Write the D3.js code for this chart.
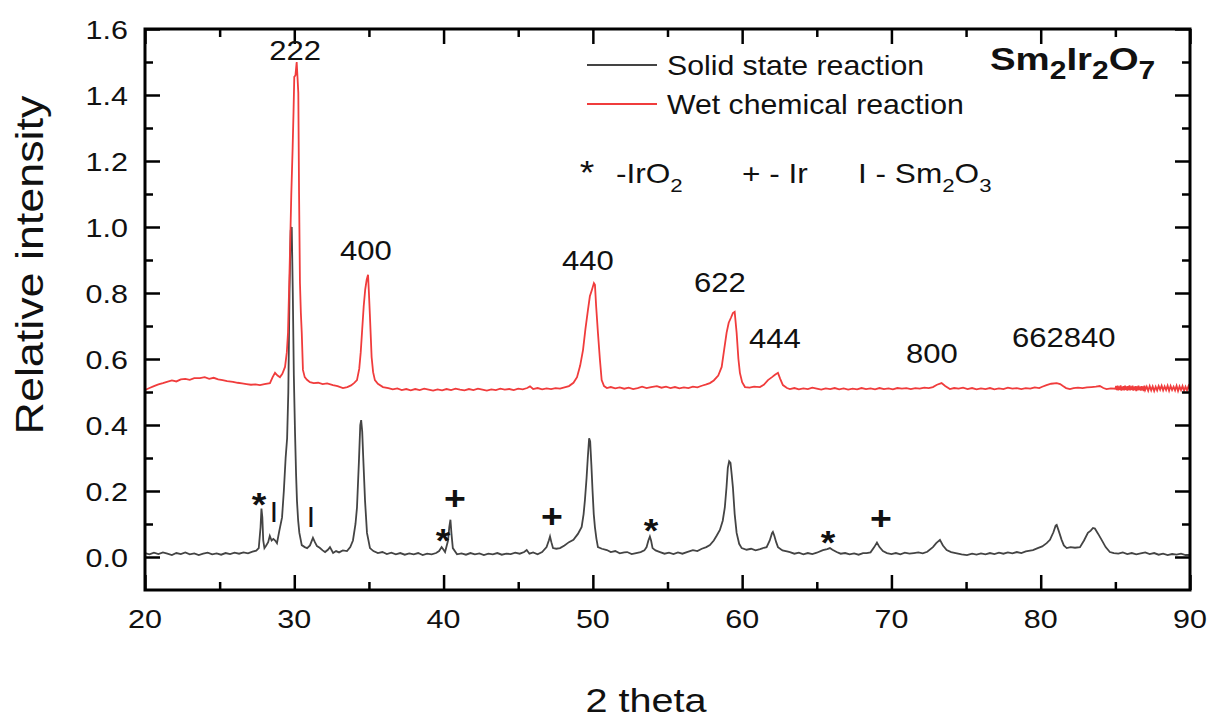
<!DOCTYPE html>
<html>
<head>
<meta charset="utf-8">
<script src="https://cdn.jsdelivr.net/npm/d3@7"></script>
<style>
  body { margin: 0; background: #fff; }
  text { font-family: "Liberation Sans", Arial, sans-serif; fill: #111; }
</style>
</head>
<body>
<div id="container"></div>
<script>
// solid state reaction pattern [2theta, intensity]
const solid = [[20.0,0.012],[20.3,0.008],[20.6,0.013],[20.9,0.009],[21.2,0.014],[21.5,0.010],[21.8,0.006],[22.1,0.012],[22.4,0.009],[22.7,0.014],[23.0,0.008],[23.3,0.011],[23.6,0.006],[23.9,0.010],[24.2,0.013],[24.5,0.008],[24.8,0.011],[25.1,0.007],[25.4,0.012],[25.7,0.009],[26.0,0.013],[26.3,0.010],[26.6,0.014],[26.9,0.011],[27.2,0.016],[27.45,0.019],[27.62,0.027],[27.74,0.09],[27.8,0.147],[27.86,0.12],[27.92,0.05],[28.0,0.027],[28.12,0.035],[28.25,0.045],[28.36,0.064],[28.48,0.05],[28.6,0.055],[28.72,0.05],[28.84,0.042],[29.0,0.08],[29.18,0.12],[29.3,0.2],[29.42,0.3],[29.52,0.36],[29.6,0.5],[29.68,0.8],[29.76,0.99],[29.83,1.0],[29.9,0.8],[29.97,0.55],[30.05,0.376],[30.12,0.25],[30.18,0.17],[30.26,0.11],[30.34,0.073],[30.5,0.036],[30.7,0.03],[30.86,0.027],[31.05,0.035],[31.25,0.058],[31.38,0.045],[31.52,0.033],[31.7,0.028],[31.9,0.02],[32.06,0.015],[32.25,0.022],[32.39,0.03],[32.6,0.012],[32.8,0.018],[33.0,0.014],[33.25,0.02],[33.53,0.018],[33.75,0.03],[33.93,0.05],[34.1,0.1],[34.2,0.15],[34.33,0.29],[34.42,0.4],[34.48,0.415],[34.55,0.38],[34.62,0.3],[34.74,0.17],[34.87,0.073],[35.07,0.027],[35.3,0.018],[35.6,0.012],[35.9,0.015],[36.2,0.009],[36.5,0.013],[36.8,0.008],[37.1,0.012],[37.4,0.007],[37.7,0.011],[38.0,0.008],[38.3,0.012],[38.6,0.006],[38.9,0.010],[39.2,0.008],[39.5,0.012],[39.7,0.018],[39.87,0.03],[40.0,0.022],[40.1,0.015],[40.3,0.05],[40.38,0.09],[40.46,0.113],[40.53,0.07],[40.62,0.027],[40.9,0.008],[41.2,0.011],[41.5,0.007],[41.8,0.012],[42.1,0.008],[42.4,0.011],[42.7,0.006],[43.0,0.010],[43.3,0.008],[43.6,0.012],[43.9,0.007],[44.2,0.010],[44.5,0.009],[44.8,0.013],[45.1,0.010],[45.4,0.015],[45.57,0.021],[45.75,0.010],[46.0,0.014],[46.3,0.008],[46.6,0.015],[46.9,0.03],[47.05,0.05],[47.13,0.062],[47.22,0.045],[47.33,0.027],[47.55,0.025],[47.8,0.027],[48.1,0.035],[48.4,0.045],[48.7,0.052],[49.0,0.07],[49.25,0.091],[49.38,0.13],[49.47,0.173],[49.58,0.24],[49.66,0.3],[49.75,0.36],[49.82,0.35],[49.9,0.28],[49.98,0.2],[50.06,0.13],[50.14,0.09],[50.24,0.055],[50.34,0.03],[50.6,0.025],[50.94,0.021],[51.2,0.015],[51.5,0.018],[51.8,0.011],[52.1,0.014],[52.3,0.015],[52.6,0.009],[52.9,0.012],[53.2,0.015],[53.45,0.02],[53.6,0.03],[53.72,0.05],[53.82,0.062],[53.9,0.05],[54.0,0.027],[54.2,0.02],[54.5,0.015],[54.8,0.010],[55.1,0.013],[55.4,0.009],[55.7,0.014],[56.0,0.010],[56.3,0.015],[56.7,0.021],[57.0,0.018],[57.3,0.025],[57.6,0.03],[57.84,0.036],[58.1,0.05],[58.3,0.065],[58.51,0.082],[58.7,0.11],[58.84,0.15],[58.95,0.21],[59.04,0.27],[59.13,0.29],[59.22,0.285],[59.3,0.25],[59.38,0.212],[59.5,0.13],[59.63,0.073],[59.8,0.04],[59.97,0.027],[60.3,0.022],[60.6,0.025],[60.9,0.02],[61.2,0.024],[61.45,0.028],[61.64,0.03],[61.85,0.05],[62.0,0.072],[62.06,0.076],[62.15,0.065],[62.28,0.045],[62.4,0.03],[62.7,0.02],[63.0,0.017],[63.2,0.015],[63.5,0.010],[63.8,0.013],[64.1,0.008],[64.4,0.012],[64.7,0.009],[65.0,0.013],[65.41,0.021],[65.7,0.024],[65.88,0.027],[66.05,0.022],[66.33,0.015],[66.6,0.010],[66.9,0.012],[67.2,0.008],[67.5,0.011],[67.8,0.007],[68.1,0.012],[68.34,0.012],[68.6,0.014],[68.85,0.03],[69.03,0.044],[69.2,0.03],[69.43,0.018],[69.7,0.012],[70.0,0.009],[70.3,0.012],[70.6,0.008],[70.9,0.013],[71.2,0.010],[71.5,0.012],[71.8,0.014],[72.1,0.011],[72.4,0.016],[72.78,0.03],[73.0,0.042],[73.25,0.052],[73.45,0.035],[73.7,0.021],[74.0,0.015],[74.3,0.012],[74.7,0.008],[75.06,0.006],[75.4,0.010],[75.7,0.007],[76.0,0.011],[76.3,0.008],[76.6,0.012],[76.9,0.009],[77.2,0.013],[77.5,0.010],[77.8,0.014],[78.1,0.011],[78.4,0.015],[78.7,0.012],[79.0,0.017],[79.48,0.021],[79.8,0.027],[80.1,0.032],[80.4,0.042],[80.62,0.052],[80.85,0.075],[81.0,0.095],[81.07,0.097],[81.2,0.08],[81.4,0.052],[81.55,0.035],[81.74,0.027],[82.0,0.03],[82.3,0.028],[82.63,0.03],[82.9,0.05],[83.16,0.073],[83.35,0.08],[83.5,0.088],[83.63,0.086],[83.85,0.07],[84.08,0.052],[84.35,0.03],[84.63,0.015],[84.9,0.012],[85.2,0.010],[85.5,0.014],[85.8,0.009],[86.1,0.012],[86.4,0.008],[86.7,0.011],[87.0,0.014],[87.3,0.009],[87.6,0.012],[87.9,0.007],[88.2,0.010],[88.5,0.006],[88.8,0.009],[89.1,0.007],[89.4,0.010],[89.7,0.006],[90.0,0.006]];

// wet chemical reaction pattern [2theta, intensity]
const wet = [[20.0,0.506],[20.3,0.512],[20.6,0.518],[20.9,0.523],[21.2,0.527],[21.47,0.531],[21.8,0.535],[22.1,0.532],[22.4,0.538],[22.7,0.540],[23.0,0.537],[23.3,0.542],[23.68,0.542],[24.0,0.545],[24.3,0.540],[24.6,0.543],[24.9,0.538],[25.2,0.536],[25.5,0.533],[25.89,0.531],[26.2,0.528],[26.5,0.526],[26.8,0.524],[27.1,0.522],[27.4,0.523],[27.7,0.521],[28.0,0.524],[28.37,0.527],[28.55,0.545],[28.71,0.558],[28.88,0.55],[29.04,0.545],[29.2,0.555],[29.38,0.576],[29.5,0.62],[29.58,0.68],[29.7,0.9],[29.8,1.1],[29.89,1.24],[29.95,1.35],[30.0,1.455],[30.08,1.46],[30.16,1.5],[30.22,1.45],[30.27,1.406],[30.32,1.1],[30.38,0.83],[30.44,0.74],[30.5,0.68],[30.58,0.567],[30.7,0.545],[30.85,0.537],[31.05,0.53],[31.3,0.527],[31.6,0.528],[31.9,0.524],[32.2,0.526],[32.59,0.521],[32.9,0.518],[33.26,0.512],[33.55,0.515],[33.8,0.52],[34.0,0.527],[34.2,0.536],[34.35,0.57],[34.45,0.62],[34.55,0.69],[34.65,0.76],[34.75,0.81],[34.85,0.84],[34.94,0.855],[35.0,0.8],[35.07,0.727],[35.18,0.606],[35.28,0.56],[35.4,0.536],[35.6,0.525],[35.94,0.515],[36.3,0.512],[36.6,0.508],[36.9,0.511],[37.2,0.506],[37.5,0.509],[37.8,0.505],[38.1,0.509],[38.4,0.506],[38.7,0.510],[39.0,0.507],[39.3,0.504],[39.6,0.508],[39.9,0.505],[40.2,0.509],[40.5,0.506],[40.8,0.510],[41.1,0.507],[41.4,0.505],[41.7,0.509],[42.0,0.506],[42.3,0.510],[42.6,0.507],[42.9,0.504],[43.2,0.508],[43.5,0.506],[43.8,0.510],[44.1,0.507],[44.4,0.509],[44.7,0.506],[45.0,0.510],[45.3,0.508],[45.6,0.512],[45.79,0.517],[46.0,0.509],[46.3,0.512],[46.6,0.508],[46.9,0.511],[47.2,0.509],[47.5,0.512],[47.8,0.510],[48.1,0.514],[48.4,0.518],[48.7,0.528],[48.94,0.545],[49.15,0.58],[49.34,0.627],[49.5,0.69],[49.67,0.748],[49.8,0.79],[49.94,0.81],[50.07,0.83],[50.14,0.825],[50.22,0.76],[50.34,0.68],[50.47,0.6],[50.59,0.536],[50.75,0.518],[50.94,0.512],[51.2,0.515],[51.5,0.511],[51.8,0.514],[52.1,0.510],[52.4,0.513],[52.7,0.509],[53.0,0.512],[53.3,0.516],[53.6,0.512],[53.9,0.515],[54.29,0.518],[54.6,0.513],[54.9,0.516],[55.2,0.512],[55.5,0.515],[55.8,0.511],[56.1,0.514],[56.4,0.512],[56.7,0.516],[57.0,0.514],[57.3,0.519],[57.6,0.523],[57.84,0.527],[58.1,0.535],[58.4,0.55],[58.63,0.576],[58.8,0.63],[58.96,0.68],[59.1,0.71],[59.25,0.725],[59.38,0.739],[59.5,0.743],[59.63,0.68],[59.75,0.6],[59.85,0.558],[60.0,0.53],[60.19,0.515],[60.5,0.513],[60.8,0.516],[61.19,0.515],[61.45,0.522],[61.73,0.536],[62.0,0.545],[62.2,0.552],[62.4,0.558],[62.55,0.54],[62.73,0.521],[63.0,0.512],[63.2,0.509],[63.5,0.512],[63.8,0.508],[64.1,0.511],[64.4,0.509],[64.7,0.513],[65.0,0.510],[65.3,0.507],[65.6,0.511],[65.9,0.509],[66.2,0.512],[66.5,0.508],[66.8,0.511],[67.1,0.507],[67.4,0.510],[67.7,0.508],[68.0,0.512],[68.3,0.509],[68.6,0.511],[68.9,0.508],[69.2,0.512],[69.5,0.509],[69.8,0.511],[70.1,0.508],[70.4,0.512],[70.7,0.510],[71.0,0.512],[71.3,0.509],[71.6,0.512],[71.9,0.510],[72.2,0.513],[72.5,0.512],[72.78,0.515],[73.05,0.522],[73.36,0.527],[73.6,0.518],[73.92,0.509],[74.2,0.512],[74.5,0.510],[74.8,0.513],[75.1,0.509],[75.4,0.512],[75.7,0.508],[76.0,0.511],[76.3,0.509],[76.6,0.512],[76.9,0.508],[77.2,0.511],[77.5,0.509],[77.8,0.513],[78.1,0.510],[78.4,0.512],[78.7,0.509],[79.0,0.512],[79.3,0.510],[79.6,0.514],[79.9,0.512],[80.1,0.516],[80.39,0.521],[80.7,0.525],[81.07,0.527],[81.3,0.524],[81.49,0.518],[81.7,0.512],[81.96,0.509],[82.2,0.512],[82.5,0.513],[82.8,0.512],[83.1,0.514],[83.4,0.515],[83.7,0.516],[83.96,0.518],[84.2,0.512],[84.41,0.509],[84.7,0.511],[85.0,0.510],[85.05,0.518],[85.1,0.506],[85.15,0.519],[85.2,0.505],[85.25,0.517],[85.3,0.507],[85.35,0.520],[85.4,0.504],[85.45,0.516],[85.5,0.506],[85.55,0.518],[85.6,0.505],[85.65,0.519],[85.7,0.507],[85.75,0.517],[85.8,0.504],[85.85,0.518],[85.9,0.506],[85.95,0.520],[86.0,0.505],[86.05,0.517],[86.1,0.507],[86.15,0.519],[86.2,0.504],[86.25,0.516],[86.3,0.506],[86.35,0.518],[86.4,0.503],[86.45,0.517],[86.5,0.505],[86.55,0.519],[86.6,0.506],[86.65,0.516],[86.7,0.504],[86.75,0.518],[86.8,0.505],[86.85,0.517],[86.9,0.503],[86.95,0.519],[87.0,0.506],[87.1,0.516],[87.2,0.504],[87.3,0.518],[87.4,0.505],[87.5,0.517],[87.6,0.503],[87.7,0.516],[87.8,0.505],[87.9,0.518],[88.0,0.507],[88.1,0.519],[88.2,0.505],[88.3,0.517],[88.4,0.506],[88.5,0.519],[88.6,0.504],[88.7,0.518],[88.8,0.506],[88.9,0.516],[89.0,0.505],[89.1,0.519],[89.2,0.503],[89.3,0.517],[89.4,0.506],[89.5,0.518],[89.6,0.504],[89.7,0.516],[89.8,0.505],[89.9,0.518],[90.0,0.507]];

const seriesNames = ["Solid state reaction", "Wet chemical reaction"];
const seriesColors = ["#444444", "#f03c3c"];

const xTicks = [20, 30, 40, 50, 60, 70, 80, 90];
const xMinor = [25, 35, 45, 55, 65, 75, 85];
const yTicks = [0.0, 0.2, 0.4, 0.6, 0.8, 1.0, 1.2, 1.4, 1.6];
const yMinor = [0.1, 0.3, 0.5, 0.7, 0.9, 1.1, 1.3, 1.5];

// hkl labels of the pyrochlore reflections
const peakLabels = ["222", "400", "440", "622", "444", "800", "662840"];
const peakX = [30.05, 34.8, 49.67, 58.51, 62.2, 72.71, 81.55];
const peakY = [1.506, 0.9, 0.87, 0.803, 0.633, 0.588, 0.636];

// impurity marks on the solid state pattern
const phaseSym = ["*", "I", "I", "*", "+", "+", "*", "*", "+"];
const phaseX = [27.64, 28.64, 31.12, 39.96, 40.76, 47.26, 53.89, 65.75, 69.3];
const phaseY = [0.185, 0.139, 0.124, 0.076, 0.176, 0.121, 0.106, 0.07, 0.115];

let svg = d3.select("#container")
  .append("svg")
  .attr("width", 1208)
  .attr("height", 719);

svg.append("rect").attr("width", 1208).attr("height", 719).attr("fill", "#fff");

let x = d3.scaleLinear().domain([20, 90]).range([145, 1190]);
let y = d3.scaleLinear().domain([-0.1, 1.6]).range([590, 29]);

// text stretched a little sideways, like the original export
function label(g, str, px, py, size, sx, anchor, weight) {
  return g.append("text")
    .attr("transform", "translate(" + px + "," + py + ") scale(" + sx + ",1)")
    .attr("text-anchor", anchor || "start")
    .attr("font-size", size)
    .attr("font-weight", weight || "normal")
    .text(str);
}

// curves
let line = d3.line().x(d => x(d[0])).y(d => y(d[1]));
[solid, wet].forEach(function (s, i) {
  svg.append("path")
    .datum(s)
    .attr("d", line)
    .attr("fill", "none")
    .attr("stroke", seriesColors[i])
    .attr("stroke-width", 1.8)
    .attr("stroke-linejoin", "miter");
});

// ticks, all pointing inwards
function ticks(axis, vals, len, tr) {
  let g = svg.append("g").attr("transform", tr)
    .call(axis.tickValues(vals).tickSize(-len).tickFormat(""));
  g.select(".domain").remove();
  g.selectAll("line").attr("stroke", "#000").attr("stroke-width", 2.5);
  return g;
}
ticks(d3.axisBottom(x), xTicks, 15, "translate(0,590)");
ticks(d3.axisBottom(x), xMinor, 8, "translate(0,590)");
ticks(d3.axisTop(x), xTicks, 15, "translate(0,29)");
ticks(d3.axisTop(x), xMinor, 8, "translate(0,29)");
ticks(d3.axisLeft(y), yTicks, 15, "translate(145,0)");
ticks(d3.axisLeft(y), yMinor, 8, "translate(145,0)");
ticks(d3.axisRight(y), yTicks, 15, "translate(1190,0)");
ticks(d3.axisRight(y), yMinor, 8, "translate(1190,0)");

svg.append("rect")
  .attr("x", x(20)).attr("y", y(1.6))
  .attr("width", x(90) - x(20)).attr("height", y(-0.1) - y(1.6))
  .attr("fill", "none").attr("stroke", "#000").attr("stroke-width", 3);

// tick labels
xTicks.forEach(function (v) {
  label(svg, String(v), x(v), 628, 25, 1.22, "middle");
});
yTicks.forEach(function (v) {
  label(svg, v.toFixed(1), 128, y(v) + 10, 25, 1.22, "end");
});

// axis titles
label(svg, "2 theta", 646, 712, 33, 1.2, "middle");
svg.append("text")
  .attr("transform", "translate(43,265) rotate(-90) scale(1.18,1)")
  .attr("text-anchor", "middle")
  .attr("font-size", 38)
  .text("Relative intensity");

// legend
seriesNames.forEach(function (n, i) {
  let ly = 65 + i * 39;
  svg.append("line")
    .attr("x1", 587).attr("x2", 657).attr("y1", ly).attr("y2", ly)
    .attr("stroke", seriesColors[i]).attr("stroke-width", 1.8);
  label(svg, n, 667, ly + 10, 28, 1.08);
});

// compound name
let title = label(svg, "", 990, 70, 32, 1.2, "start", "bold").text(null);
[["Sm", 0], ["2", 1], ["Ir", 0], ["2", 1], ["O", 0], ["7", 1]].forEach(function (p, i, arr) {
  let prev = i > 0 ? arr[i - 1][1] : 0;
  title.append("tspan")
    .attr("font-size", p[1] ? 25 : 32)
    .attr("dy", (p[1] - prev) * 9)
    .text(p[0]);
});

// impurity key
label(svg, "*", 587, 184, 34, 1.1, "middle");
let key1 = label(svg, "-IrO", 616, 183, 27, 1.17);
key1.append("tspan").attr("font-size", 19).attr("dy", 9).text("2");
label(svg, "+ - Ir", 742, 183, 27, 1.17);
let key3 = label(svg, "I - Sm", 858, 183, 27, 1.17);
key3.append("tspan").attr("font-size", 19).attr("dy", 9).text("2");
key3.append("tspan").attr("dy", -9).text("O");
key3.append("tspan").attr("font-size", 19).attr("dy", 9).text("3");

// peak indices
peakLabels.forEach(function (t, i) {
  label(svg, t, x(peakX[i]), y(peakY[i]), 27, 1.15, "middle");
});

// impurity marks
phaseSym.forEach(function (s, i) {
  let off = s === "*" ? 20 : 11;
  let size = s === "I" ? 30 : 34;
  let w = s === "I" ? "normal" : "bold";
  label(svg, s, x(phaseX[i]), y(phaseY[i]) + off, size, s === "I" ? 1 : 1.1, "middle", w);
});
</script>
</body>
</html>
